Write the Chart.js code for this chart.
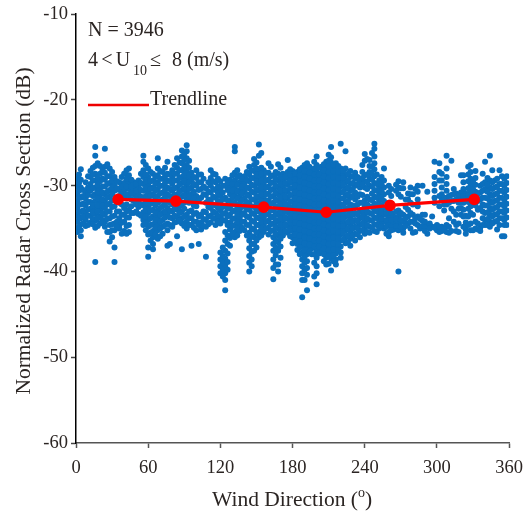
<!DOCTYPE html>
<html><head><meta charset="utf-8">
<script src="https://cdn.jsdelivr.net/npm/chart.js@4"></script>
<style>html,body{margin:0;padding:0;background:#fff}#w{position:relative;width:532px;height:518px}</style>
</head><body><div id="w"><canvas id="c" width="532" height="518"></canvas></div>
<script>
const trendDirection=[35,83,156,208,261,331];
const trendNrcs=[-31.6,-31.8,-32.5,-33.1,-32.3,-31.6];
const xTicks=[0,60,120,180,240,300,360];
const yTicks=[-10,-20,-30,-40,-50,-60];
const windDirections=[1,4,8,12,16,20,24,28,32,36,40,44,48,52,56,60,64,68,72,76,80,84,88,92,96,100,104,108,112,116,120,124,128,132,136,140,144,148,152,156,160,164,168,172,176,180,184,188,192,196,200,204,208,212,216,220,224,228,232,236,240,244,248,252,256,260,264,268,272,276,280,284,288,292,296,300,304,308,312,316,320,324,328,332,336,340,344,348,352,356,358];
const nrcsByDirection=[
[-29.2,-30.1,-31,-31.8,-32.6,-33.4,-34.2,-35,-35.4],
[-28.1,-29.3,-30.2,-31.4,-32.2,-33,-33.8,-34.5,-35.2,-35.9],
[-29.6,-30.7,-31.5,-32.3,-33.2,-34,-34.7],
[-28.3,-29,-29.8,-30.6,-31.9,-32.7,-33.5,-34.3],
[-25.5,-26.5,-27.7,-28.6,-29.4,-30.2,-31,-31.8,-32.6,-33.3,-34.1,-34.9,-38.9],
[-27.7,-28.6,-29.5,-30.3,-31.1,-32,-32.8,-33.6,-34.4],
[-25.7,-27.8,-28.5,-29.3,-30.1,-31,-31.8,-32.6,-33.4,-34.2,-34.8],
[-28,-28.9,-29.7,-30.5,-31.3,-32.1,-33,-33.8,-34.6,-35.4,-36.5],
[-29,-29.8,-30.6,-32.4,-33.5,-34.4,-35.2,-37.2,-38.9],
[-29.6,-30.5,-31.2,-32,-33,-33.8,-34.6,-35],
[-28.6,-29.7,-30.5,-31.4,-32.6,-33.4,-34.2,-35.3],
[-28,-28.8,-29.6,-30.4,-31.2,-32.8,-33.7,-34.6,-35.4],
[-29.6,-30.3,-31,-31.8,-33.2],
[-29.4,-30.2,-31,-31.8,-32.5,-33.3],
[-26.5,-27.2,-28.2,-29,-29.8,-30.6,-31.5,-32.3,-33.1,-34,-34.6],
[-28,-29,-29.9,-30.8,-31.6,-32.4,-33.2,-34,-34.8,-35.7,-37.2,-38.3],
[-28.6,-29.4,-30.2,-31,-31.9,-32.8,-33.6,-34.5,-35.3,-36,-36.8,-37.4],
[-26.8,-28,-28.8,-29.6,-30.4,-31.2,-32,-32.9,-33.7,-34.5,-35.2,-36.2],
[-28.4,-29.2,-30,-30.8,-31.6,-32.4,-33.2,-34,-34.8,-35.6],
[-27.2,-28.6,-29.4,-30.2,-31,-31.8,-32.6,-33.4,-34.4,-35.2,-37],
[-28.2,-29,-29.8,-30.6,-31.4,-32.2,-33,-33.8,-34.8],
[-26.8,-27.9,-28.6,-29.4,-30.2,-31,-31.9,-32.8,-33.6,-34.2,-35.9],
[-25.9,-26.6,-27.4,-28.2,-29,-29.7,-30.5,-31.3,-32.2,-33,-33.8,-34.4,-37.4],
[-25.3,-26,-26.8,-27.6,-28.4,-29.2,-30,-30.8,-31.6,-33.4,-34.2,-35],
[-28.5,-29.3,-30.2,-31,-31.8,-32.9,-33.8,-34.6,-37],
[-28.2,-29.1,-30,-31.2,-32.4,-33.2,-34.2,-35.2],
[-28.7,-29.6,-30.4,-31.4,-33.4,-34.3,-35.1],
[-30.3,-31.1,-32,-33.1,-34,-34.8,-38.3],
[-28.2,-29.1,-30,-30.8,-31.7,-32.6,-33.5,-34.3],
[-28.7,-29.6,-30.5,-31.4,-32.3,-33.2,-33.9,-34.6],
[-29.5,-30.4,-31.2,-32,-32.9,-33.7,-34.4,-37.8,-38.6,-39.4,-40.2],
[-29.2,-30,-31.4,-32.3,-33.2,-34.1,-35.4,-36.4,-37.6,-38.5,-39.4,-40.2,-41,-42.2],
[-29.3,-30.2,-31,-31.8,-32.6,-33.4,-34.3,-35.1,-36.1,-37],
[-25.5,-26,-28.5,-29.4,-30.3,-31.1,-32,-32.9,-33.8,-34.6,-35.4,-36],
[-28.8,-29.6,-30.5,-31.3,-32.1,-32.9,-33.8,-34.6,-35.3],
[-28.9,-29.7,-30.6,-31.5,-32.3,-33.2,-34.2,-35.2],
[-27.8,-28.7,-29.5,-30.3,-31.2,-32,-32.8,-33.7,-34.6,-35.5,-36.4,-37.3,-38.2,-39,-40],
[-26.9,-27.6,-28.3,-29.1,-30,-30.8,-31.6,-32.5,-33.3,-34.2,-35.1,-36,-36.8,-37.6],
[-25.2,-26.5,-28.2,-29,-29.8,-30.6,-31.4,-32.2,-33,-33.8,-34.6,-35.4,-36],
[-28.2,-29,-29.8,-30.6,-31.4,-32.2,-33,-33.8,-34.6,-35.4],
[-27.4,-28.5,-29.3,-30.1,-30.9,-31.7,-32.5,-33.3,-34.1,-34.9,-35.7],
[-28.8,-29.6,-30.4,-31.2,-32,-32.8,-33.6,-34.4,-35.2,-36,-36.8,-37.6,-38.6,-39.6,-40.9],
[-27.5,-28.6,-29.4,-30.2,-31,-31.8,-32.6,-33.4,-34.2,-35,-35.8,-36.6,-37.6,-39.2,-40],
[-28.6,-29.3,-30.1,-30.9,-31.7,-32.5,-33.3,-34.1,-34.9,-35.8],
[-27,-28.4,-29.1,-29.9,-30.7,-31.5,-32.3,-33.1,-33.9,-34.7,-35.5],
[-28.3,-29,-29.7,-30.4,-31.1,-31.8,-32.5,-33.2,-33.9,-34.6,-35.3,-36,-36.7],
[-28.4,-29.1,-29.8,-30.5,-31.2,-31.9,-32.6,-33.3,-34,-34.7,-35.4,-36.1,-36.8,-37.5],
[-27.9,-28.6,-29.3,-30,-30.7,-31.4,-32.1,-32.8,-33.5,-34.2,-34.9,-35.6,-36.3,-37,-37.8,-38.6,-39.4,-40.2,-41,-43],
[-27.4,-28.1,-28.8,-29.5,-30.2,-30.9,-31.6,-32.3,-33,-33.7,-34.4,-35.1,-35.8,-36.5,-37.2,-38,-38.8,-39.6,-40.4,-42.2],
[-28.2,-28.9,-29.6,-30.3,-31,-31.7,-32.4,-33.1,-33.8,-34.5,-35.2,-35.9,-36.6,-37.3,-38],
[-26.6,-27.6,-28.4,-29.1,-29.8,-30.5,-31.2,-31.9,-32.6,-33.3,-34,-34.7,-35.4,-36.1,-36.8,-37.6,-38.4,-39.4,-40.2,-41.5],
[-27.8,-28.5,-29.2,-29.9,-30.6,-31.3,-32,-32.7,-33.4,-34.1,-34.8,-35.5,-36.2,-36.9,-37.6],
[-27.2,-27.9,-28.6,-29.3,-30,-30.7,-31.4,-32.1,-32.8,-33.5,-34.2,-34.9,-35.6,-36.3,-37,-37.7,-38.4,-39.2],
[-25.5,-26.7,-27.3,-28,-28.7,-29.4,-30.1,-30.8,-31.5,-32.2,-32.9,-33.6,-34.3,-35,-35.7,-36.4,-37.1,-37.8,-38.5,-39.9],
[-27.4,-28.1,-28.8,-29.5,-30.2,-30.9,-31.6,-32.3,-33,-33.7,-34.4,-35.1,-35.8,-36.5,-37.2,-37.9,-38.6,-39.2],
[-25.1,-28,-28.7,-29.4,-30.1,-30.8,-31.5,-32.2,-32.9,-33.6,-34.3,-35,-35.7,-36.4,-37.1,-37.8,-38.4],
[-26,-28,-28.8,-29.6,-30.4,-31.2,-32,-32.8,-33.6,-34.4,-35.2,-36,-36.7],
[-28.3,-29,-29.8,-30.6,-31.4,-32.2,-33,-33.8,-34.6,-35.4,-36.2,-37],
[-28.5,-29.2,-30,-30.8,-31.6,-32.4,-33.2,-34,-34.8,-35.6,-36.4],
[-29.4,-30.2,-31,-32,-33,-33.8,-34.6,-35.3,-36],
[-26.3,-27.1,-28.8,-29.5,-30.2,-31.7,-32.5,-33.3,-34.1,-34.9,-35.6],
[-27,-27.7,-28.4,-29.2,-30,-31.6,-32.4,-33.2,-34,-34.8,-35.5],
[-25.1,-25.7,-26.6,-27.4,-28.1,-28.9,-29.7,-30.5,-31.3,-32.1,-32.9,-33.7,-34.5,-35.3],
[-29.4,-30.2,-31,-31.8,-32.6,-33.4,-34.2,-35],
[-28,-29.4,-30.2,-31,-31.8,-32.6,-33.4,-34.2,-35],
[-30,-30.8,-32,-33.6,-34.4,-35.4,-35.9],
[-33.6,-34.4,-35.1],
[-29.5,-30.2,-31,-32.9,-33.6,-34.4,-35.2,-40],
[-29.6,-30.3,-33.4,-34.2,-35,-35.5],
[-30.9,-31.6,-32.8,-33.6,-34.4],
[-31,-32.2,-33.4,-34.2,-35.5],
[-30,-30.7,-31.6,-32.4,-33.6,-34.6],
[-30,-33.4,-34.1,-34.7],
[-30.7,-34.6,-35.6],
[-33.6,-34.8],
[-34.6,-35.2],
[-28.6,-29.4,-30.2,-31,-31.7,-34.8,-35.3],
[-26.5,-28,-29,-29.8,-30.6,-31.4,-32.2,-34.6,-35.4],
[-27.1,-31.1,-31.8,-32.7,-35.3],
[-30.9,-31.6,-33.4,-34.6,-35.3],
[-28.8,-30.8,-31.5,-32.6,-33.4],
[-30.9,-31.6,-33.5,-34.3,-35.1,-35.6],
[-27.6,-28.4,-29.2,-30,-30.8,-31.6,-32.4,-33.2,-34.4,-35.2],
[-28.3,-29.1,-29.9,-30.7,-31.5,-32.3,-34.2,-35],
[-30,-30.8,-31.6,-32.6,-34.9,-35.3],
[-27.2,-29.6,-30.4,-31.4,-32.3,-33.2,-34,-34.6],
[-26.5,-29.4,-30.2,-31,-31.8,-32.6,-33.4,-34.2,-34.8],
[-29.4,-30.2,-31,-31.8,-32.6,-33.4,-34.2],
[-28.2,-29.8,-30.6,-31.4,-32.2,-33,-33.8,-34.6],
[-29.2,-30,-30.8,-31.6,-32.4,-33.2,-34,-34.6,-35.9],
[-28.9,-29.7,-30.5,-31.3,-32.1,-32.9,-33.7,-34.6],
[-28.4,-29.4,-30.2,-31.4,-32.2,-33,-33.8,-34.6]
];
const windDirectionsB=[2.5,6,10,14,18,22,26,30,34,38,42,46,50,54,58,62,66,70,74,78,82,86,90,94,98,102,106,110,114,118,122,126,130,134,138,142,146,150,154,158,162,166,170,174,178,182,186,190,194,198,202,206,210,214,218,222,226,230,234,238,242,246,250,254,258,262,266,270,274,278,282,286,290,294,298,302,306,310,314,318,322,326,330,334,338,342,346,350,354];
const nrcsByDirectionB=[
[-28.7,-29.7,-30.6,-31.3,-32.2,-33.1,-33.7,-34.8],
[-30.5,-31.2,-32.1,-32.9,-33.6,-34.4],
[-28.9,-30.2,-31.1,-31.9,-32.8,-33.5,-34.6],
[-27.9,-28.7,-29.4,-30.3,-31.2,-32.3,-33.1,-33.9,-34.5],
[-27.4,-29,-29.9,-30.7,-31.5,-32.3,-33,-33.8,-34.7],
[-28.2,-29.2,-30.1,-30.8,-31.6,-32.3,-33.2,-34,-34.3],
[-27.5,-28.9,-29.8,-30.7,-31.4,-32.2,-33,-33.9,-35.4],
[-28.4,-29.4,-30.2,-31,-31.7,-32.5,-33.6,-34.5,-35.2,-36],
[-29.5,-30.3,-31.9,-33,-34.2,-34.8],
[-29,-30.1,-31,-32.2,-33.4,-34.3,-35.6],
[-28.2,-29.2,-30.1,-31,-32.2,-33,-33.7,-34.7,-35.6],
[-29.3,-30.1,-30.8,-31.6,-32.4,-33.2],
[-29.8,-30.6,-31.4,-32.2,-33],
[-28.6,-29.7,-30.5,-31.3,-32.2,-33.5],
[-27.6,-28.7,-29.5,-30.3,-31.2,-32,-32.8,-33.6,-34.4,-35.2],
[-28.4,-29.5,-30.4,-31.2,-32.1,-32.9,-33.8,-34.6,-35.5,-36.4],
[-29,-29.8,-30.6,-31.5,-32.3,-33.2,-34,-34.9,-35.7],
[-28.3,-29.2,-30,-30.9,-31.8,-32.6,-33.4,-34.2,-35,-35.9],
[-27.9,-28.9,-29.7,-30.5,-31.3,-32.1,-33,-33.7,-34.6],
[-28.7,-29.5,-30.4,-31.2,-32,-32.9,-33.7,-34.6,-36.8],
[-27.6,-28.6,-29.4,-30.3,-31.1,-31.9,-32.7,-33.5,-34.3],
[-27.3,-28.2,-29.1,-29.9,-30.7,-31.5,-32.4,-33.2,-34.1],
[-26.3,-27,-27.9,-28.7,-29.5,-30.3,-31.1,-32,-32.7,-33.6,-34.7],
[-27.1,-27.9,-28.8,-29.6,-30.4,-31.3,-32,-33,-33.8,-34.6],
[-29,-29.8,-30.7,-31.5,-32.3,-33.3,-34.2,-34.9],
[-28.7,-29.6,-30.5,-31.7,-33.6,-34.6,-36.8],
[-29.2,-30.1,-31,-33,-33.9,-34.7],
[-29.6,-30.7,-31.6,-32.5,-33.6,-34.5],
[-28.6,-29.5,-30.4,-31.3,-32.2,-33,-33.8],
[-29.2,-30.1,-30.9,-31.8,-32.6,-33.5,-34.2],
[-30,-30.8,-31.6,-32.5,-33.3,-34,-37.2,-38.2,-39,-39.8,-40.6],
[-29.7,-30.5,-31.7,-32.7,-33.6,-34.6,-35.8,-36.8,-37.9,-38.9,-39.8],
[-28.8,-29.8,-30.6,-31.4,-32.2,-33,-33.9,-34.7,-35.6],
[-28.2,-29,-29.9,-30.7,-31.5,-32.4,-33.3,-34.2,-35,-35.8],
[-29.2,-30.1,-30.9,-31.7,-32.5,-33.4,-34.2,-34.9],
[-28.4,-29.3,-30.2,-31,-31.9,-32.7,-33.6,-34.6,-35.8],
[-28.2,-29.1,-29.9,-30.7,-31.6,-32.4,-33.2,-34.1,-35,-35.9,-36.8,-37.7,-38.6,-39.4],
[-27.3,-28,-28.7,-29.5,-30.4,-31.2,-32,-32.9,-33.7,-34.6,-35.5,-36.4,-37.2],
[-26.2,-27.9,-28.6,-29.4,-30.2,-31,-31.8,-32.6,-33.4,-34.2,-35,-35.8],
[-28.5,-29.4,-30.2,-31,-31.8,-32.6,-33.4,-34.2,-35],
[-27.8,-28.9,-29.7,-30.5,-31.3,-32.1,-32.9,-33.7,-34.5,-35.3],
[-28.4,-29.2,-30,-30.8,-31.6,-32.4,-33.2,-34,-34.8,-35.6,-36.4,-37.2,-38.1,-39.2],
[-27.9,-29,-29.8,-30.6,-31.4,-32.2,-33,-33.8,-34.6,-35.4,-36.2,-37.1,-38.4],
[-28.9,-29.7,-30.5,-31.3,-32.1,-32.9,-33.7,-34.5,-35.3],
[-28.1,-28.7,-29.5,-30.3,-31.1,-31.9,-32.7,-33.5,-34.3,-35.1,-35.9],
[-28.6,-29.3,-30,-30.8,-31.5,-32.2,-32.9,-33.6,-34.3,-35,-35.7,-36.4],
[-28.1,-28.8,-29.5,-30.2,-30.9,-31.6,-32.3,-33,-33.7,-34.4,-35.1,-35.8,-36.5,-37.2,-38],
[-27.6,-28.3,-29,-29.7,-30.4,-31.1,-31.8,-32.5,-33.2,-33.9,-34.6,-35.3,-36,-36.7,-37.5,-38.3,-39,-39.8,-41],
[-27.8,-28.5,-29.2,-29.9,-30.6,-31.3,-32,-32.7,-33.4,-34.1,-34.8,-35.5,-36.2,-36.9,-37.7],
[-27.2,-28,-28.7,-29.4,-30.1,-30.8,-31.5,-32.2,-32.9,-33.6,-34.3,-35,-35.7,-36.4,-37.1,-38,-39,-40.6],
[-27.9,-28.7,-29.4,-30.1,-30.8,-31.5,-32.2,-32.9,-33.6,-34.3,-35,-35.7,-36.4,-37.1,-37.9],
[-27.5,-28.2,-28.9,-29.6,-30.3,-31,-31.7,-32.4,-33.1,-33.8,-34.5,-35.2,-35.9,-36.6,-37.3,-38,-38.8],
[-26.4,-27.1,-27.7,-28.4,-29.1,-29.8,-30.5,-31.2,-31.9,-32.6,-33.3,-34,-34.7,-35.4,-36.1,-36.8,-37.5,-38.2,-39.1],
[-27.6,-28.3,-29,-29.7,-30.4,-31.1,-31.8,-32.5,-33.2,-33.9,-34.6,-35.3,-36,-36.7,-37.4,-38.1,-38.8],
[-27.7,-28.4,-29.1,-29.8,-30.5,-31.2,-31.9,-32.6,-33.3,-34,-34.7,-35.4,-36.1,-36.8,-37.5],
[-28.3,-29.1,-29.9,-30.7,-31.5,-32.3,-33.1,-33.9,-34.7,-35.5,-36.3],
[-28.6,-29.4,-30.2,-31,-31.8,-32.6,-33.4,-34.2,-35,-35.8,-36.6],
[-28.9,-29.7,-30.4,-31.2,-32.3,-33.4,-34.2,-35,-35.8],
[-29,-29.8,-31.3,-32.2,-33.4,-34.2,-35,-35.7],
[-27.6,-28.4,-29.1,-29.9,-31.1,-32,-32.8,-33.6,-34.4,-35.2],
[-26.9,-28.7,-29.6,-30.4,-31.3,-32.2,-33,-33.8,-34.6,-35.4],
[-26.2,-27.8,-28.6,-29.3,-30.1,-30.9,-31.7,-32.5,-33.3,-34.1,-34.9],
[-28.7,-29.8,-30.6,-31.4,-32.2,-33,-33.8,-34.6,-35.4],
[-29,-29.9,-30.7,-31.5,-32.3,-33.1,-33.9,-34.7],
[-32.6,-33.2,-34,-34.8,-35.6],
[-30.4,-31.2,-33.2,-34,-34.8,-35.2],
[-29.9,-30.6,-33,-33.9,-34.7],
[-30.3,-31.3,-33.2,-34,-34.8],
[-31.6,-32.5,-33.8,-34.7],
[-30.2,-31,-32,-33.2,-34.2,-35],
[-30.4,-33.8,-34.4,-35.4],
[-33.9,-35],
[-33.4,-34.2,-34.9,-35.3],
[-34.4,-35],
[-27.2,-29,-29.8,-30.6,-31.4,-32,-34.9],
[-27.4,-28.4,-29.4,-31.2,-32.4,-34.8,-35.4],
[-31.4,-32.2,-32.9,-35.1],
[-31.2,-32,-33.8,-34.8,-35.5],
[-30.4,-31,-31.8,-33,-34.2],
[-31.2,-32,-32.7,-34.4,-35.4],
[-28.8,-29.6,-30.4,-31.2,-32,-32.8,-33.6,-34.8],
[-27.8,-28.7,-29.5,-30.3,-31.1,-31.9,-32.7,-33.6,-34.6],
[-29.6,-30.4,-31.2,-32,-33.4,-35.2],
[-31,-31.8,-32.8,-34.4,-35.1],
[-28.6,-29.8,-30.6,-31.4,-32.2,-33,-33.8,-34.6],
[-29.1,-29.9,-30.7,-31.5,-32.3,-33.1,-33.9,-34.6],
[-28.2,-29.6,-30.4,-31.2,-32,-32.8,-33.6,-34.4],
[-29.2,-30.1,-30.9,-31.7,-32.5,-33.3,-34.1,-35.1],
[-28.9,-29.8,-30.6,-31.4,-32.2,-33,-33.8,-35.9]
];
const scatterPoints=[];
windDirections.forEach((d,i)=>nrcsByDirection[i].forEach(v=>scatterPoints.push({x:d,y:v})));
windDirectionsB.forEach((d,i)=>nrcsByDirectionB[i].forEach(v=>scatterPoints.push({x:d,y:v})));
const serif='"Liberation Serif","Times New Roman",serif';
const ink='#2b2523';
const textPlugin={id:'texts',afterDraw(ch){
  const c=ch.ctx;c.save();c.fillStyle=ink;c.textBaseline='alphabetic';c.textAlign='left';
  const f=s=>c.font=s+'px '+serif;
  f(20);c.fillText('N = 3946',88,36);
  c.wordSpacing='-1.8px';c.fillText('4 < U',88,66);c.wordSpacing='0px';
  f(14);c.fillText('10',133,74.5);
  f(20);c.fillText('≤',150,66);c.fillText('8 (m/s)',172,66);
  c.fillText('Trendline',150,104.5);
  c.strokeStyle='#ee0000';c.lineWidth=2.5;c.beginPath();c.moveTo(88,105);c.lineTo(149,105);c.stroke();
  f(21.5);
  const a='Wind Direction (',b=')';
  const wa=c.measureText(a).width;
  const x0=212;c.fillText(a,x0,506);
  f(14);c.fillText('o',x0+wa,497);const wo=c.measureText('o').width;
  f(21.5);c.fillText(b,x0+wa+wo,506);
  c.translate(30,231);c.rotate(-Math.PI/2);c.textAlign='center';
  c.fillText('Normalized Radar Cross Section (dB)',0,0);
  c.restore();
}};
new Chart(document.getElementById('c'),{
  type:'scatter',
  data:{datasets:[
    {label:'Trendline',type:'line',data:trendDirection.map((x,i)=>({x,y:trendNrcs[i]})),borderColor:'#ff0000',backgroundColor:'#ff0000',borderWidth:3.2,pointRadius:4.2,pointHoverRadius:4.2,tension:0,fill:false,order:1},
    {label:'NRCS',data:scatterPoints,backgroundColor:'#0b6fbd',borderColor:'#0b6fbd',pointRadius:3,pointHoverRadius:3,borderWidth:0,order:2}
  ]},
  options:{responsive:false,animation:false,
    layout:{padding:{top:11,right:22,left:0,bottom:0}},
    plugins:{legend:{display:false},tooltip:{enabled:false}},
    scales:{
      x:{type:'linear',min:0,max:360,afterBuildTicks(s){s.ticks=xTicks.map(v=>({value:v}))},afterFit(s){s.height=75},
        grid:{display:true,drawOnChartArea:false,drawTicks:true,tickLength:5,tickColor:'#555',tickWidth:1.5},
        border:{color:'#555',width:1.5},
        ticks:{color:ink,font:{family:serif,size:18.5},padding:9,maxRotation:0,autoSkip:false}},
      y:{type:'linear',min:-60,max:-10,afterBuildTicks(s){s.ticks=yTicks.map(v=>({value:v}))},afterFit(s){s.width=76},
        grid:{display:true,drawOnChartArea:false,drawTicks:true,tickLength:5,tickColor:'#444',tickWidth:1.5},
        border:{color:'#000',width:1.5},
        ticks:{color:ink,font:{family:serif,size:18.5},padding:3,autoSkip:false}}
    }
  },
  plugins:[textPlugin]
});
</script></body></html>
